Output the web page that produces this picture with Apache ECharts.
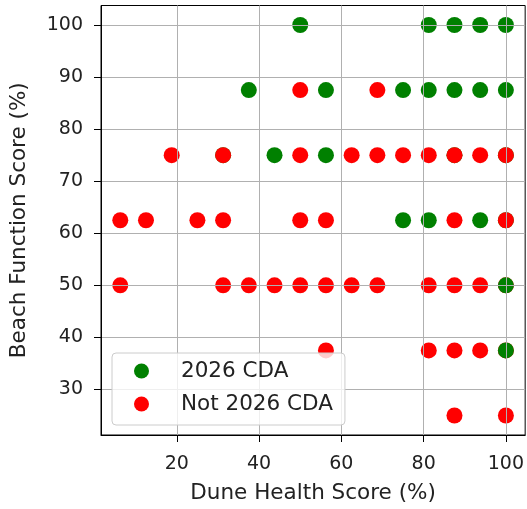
<!DOCTYPE html>
<html>
<head>
<meta charset="utf-8">
<script src="https://cdn.jsdelivr.net/npm/echarts@6/dist/echarts.min.js"></script>
<style>html,body{margin:0;padding:0;background:#fff}#c{width:527px;height:509px}</style>
</head>
<body>
<div id="c"></div>
<script>
// 2026 CDA points drawn beneath the red ones
var cdaX = [50, 81.25, 87.5, 93.75, 100,
  37.5, 56.25, 75, 81.25, 87.5, 93.75, 100,
  31.25, 43.75, 56.25, 87.5, 100,
  75, 81.25, 93.75, 100];
var cdaY = [100, 100, 100, 100, 100,
  87.5, 87.5, 87.5, 87.5, 87.5, 87.5, 87.5,
  75, 75, 75, 75, 75,
  62.5, 62.5, 62.5, 62.5];
// 2026 CDA points that sit on top of red ones
var cdaTopX = [100, 100];
var cdaTopY = [50, 37.5];
// Not 2026 CDA
var notX = [50, 68.75,
  18.75, 31.25, 50, 62.5, 68.75, 75, 81.25, 87.5, 93.75, 100,
  6.25, 12.5, 25, 31.25, 50, 56.25, 87.5, 100,
  6.25, 31.25, 37.5, 43.75, 50, 56.25, 62.5, 68.75, 81.25, 87.5, 93.75, 100,
  56.25, 81.25, 87.5, 93.75, 100,
  87.5, 100];
var notY = [87.5, 87.5,
  75, 75, 75, 75, 75, 75, 75, 75, 75, 75,
  62.5, 62.5, 62.5, 62.5, 62.5, 62.5, 62.5, 62.5,
  50, 50, 50, 50, 50, 50, 50, 50, 50, 50, 50, 50,
  37.5, 37.5, 37.5, 37.5, 37.5,
  25, 25];
var xTicks = [20, 40, 60, 80, 100];
var yTicks = [30, 40, 50, 60, 70, 80, 90, 100];
var seriesNames = ['2026 CDA', 'Not 2026 CDA'];

function pairs(xs, ys) { return xs.map(function (x, i) { return [x, ys[i]]; }); }

var font = 'DejaVu Sans';
var chart = echarts.init(document.getElementById('c'), null, {renderer: 'canvas'});
chart.setOption({
  animation: false,
  backgroundColor: '#fff',
  grid: {left: 100.5, top: 5.5, width: 429, height: 430, show: true, borderColor: '#000', borderWidth: 1, backgroundColor: 'transparent'},
  legend: {
    orient: 'vertical', left: 112, top: 353,
    data: seriesNames,
    icon: 'circle', itemWidth: 15, itemHeight: 15, itemGap: 11,
    padding: [7, 12, 10, 22],
    backgroundColor: 'rgba(255,255,255,0.8)',
    borderColor: '#cccccc', borderWidth: 1, borderRadius: 4,
    textStyle: {fontFamily: font, fontSize: 21.5, color: '#222', lineHeight: 22, padding: [0, 0, 0, 27]}
  },
  xAxis: {
    type: 'value', min: 1.5625, max: 104.6875, z: 3,
    name: 'Dune Health Score (%)', nameLocation: 'middle', nameGap: 47,
    nameTextStyle: {fontFamily: font, fontSize: 21.5, color: '#222'},
    axisLine: {show: true, onZero: false, lineStyle: {color: '#000', width: 1}},
    axisTick: {show: true, length: 7, customValues: xTicks, lineStyle: {color: '#000'}},
    axisLabel: {customValues: xTicks, fontFamily: font, fontSize: 19, color: '#222', margin: 20},
    splitLine: {show: true, lineStyle: {color: '#b0b0b0', width: 1}}
  },
  yAxis: {
    type: 'value', min: 21.25, max: 103.75, z: 3,
    name: 'Beach Function Score (%)', nameLocation: 'middle', nameGap: 71,
    nameTextStyle: {fontFamily: font, fontSize: 21.5, color: '#222'},
    axisLine: {show: true, onZero: false, lineStyle: {color: '#000', width: 1}},
    axisTick: {show: true, length: 7, customValues: yTicks, lineStyle: {color: '#000'}},
    axisLabel: {customValues: yTicks, fontFamily: font, fontSize: 19, color: '#222', margin: 18},
    splitLine: {show: true, lineStyle: {color: '#b0b0b0', width: 1}}
  },
  series: [
    {name: seriesNames[0], type: 'scatter', symbolSize: 16, itemStyle: {color: '#008000', opacity: 1}, data: pairs(cdaX, cdaY), z: 1},
    {name: seriesNames[1], type: 'scatter', symbolSize: 16, itemStyle: {color: '#ff0000', opacity: 1}, data: pairs(notX, notY), z: 1},
    {name: seriesNames[0], type: 'scatter', symbolSize: 16, itemStyle: {color: '#008000', opacity: 1}, data: pairs(cdaTopX, cdaTopY), z: 1}
  ]
});
</script>
</body>
</html>
